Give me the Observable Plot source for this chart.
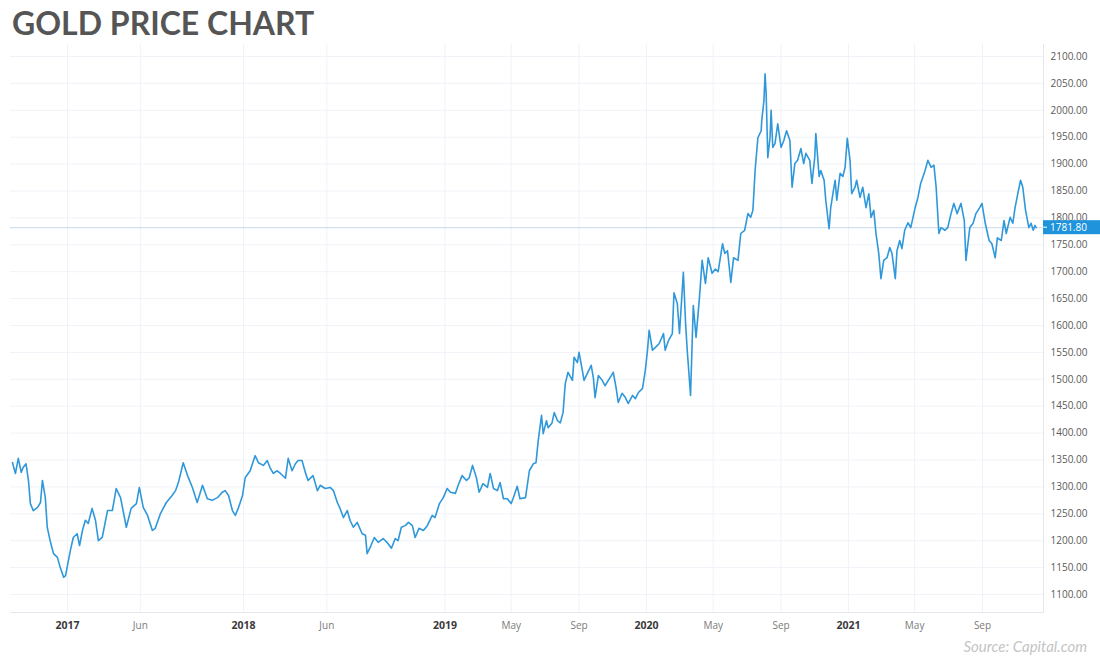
<!DOCTYPE html>
<html>
<head>
<meta charset="utf-8">
<script src="https://cdn.jsdelivr.net/npm/d3@7"></script>
<script src="https://cdn.jsdelivr.net/npm/@observablehq/plot@0.6"></script>
<style>
  html, body { margin: 0; padding: 0; background: #fff; }
  body { width: 1100px; height: 666px; overflow: hidden; font-family: Lato, "Noto Sans", sans-serif; }
  #title { height: 44px; box-sizing: border-box; padding: 7px 0 0 12px; font-size: 32px; line-height: 32px; font-weight: 700; color: #555; letter-spacing: 0px; }
  #chart svg { display: block; }
  #source { margin-top: -4px; height: 24px; text-align: right; padding-right: 13px; font-style: italic; font-size: 15px; line-height: 16px; color: #c4c4c4; }
</style>
</head>
<body>
<div id="title">GOLD PRICE CHART</div>
<div id="chart"></div>
<div id="source">Source: Capital.com</div>
<script>
// ---- data ----
const dates = [
"2016-09-09","2016-09-15","2016-09-21","2016-09-27","2016-10-01","2016-10-07","2016-10-12","2016-10-16","2016-10-22","2016-10-31",
"2016-11-06","2016-11-10","2016-11-16","2016-11-20","2016-11-26","2016-12-03","2016-12-11","2016-12-17","2016-12-24","2016-12-28",
"2017-01-01","2017-01-07","2017-01-13","2017-01-21","2017-01-26","2017-02-01","2017-02-07","2017-02-13","2017-02-21","2017-02-28",
"2017-03-06","2017-03-14","2017-03-25","2017-04-04","2017-04-12","2017-04-21","2017-05-03","2017-05-13","2017-05-24","2017-05-30",
"2017-06-07","2017-06-16","2017-06-26","2017-07-02","2017-07-13","2017-07-25","2017-08-06","2017-08-13","2017-08-19","2017-08-29",
"2017-09-07","2017-09-17","2017-09-27","2017-10-08","2017-10-18","2017-10-28","2017-11-08","2017-11-18","2017-11-24","2017-12-01",
"2017-12-09","2017-12-15","2017-12-21","2017-12-30","2018-01-04","2018-01-13","2018-01-22","2018-01-28","2018-02-06","2018-02-13",
"2018-02-18","2018-02-24","2018-03-03","2018-03-09","2018-03-18","2018-03-23","2018-03-30","2018-04-05","2018-04-10","2018-04-17",
"2018-04-23","2018-04-28","2018-05-07","2018-05-15","2018-05-20","2018-05-29","2018-06-07","2018-06-13","2018-06-20","2018-06-25",
"2018-07-01","2018-07-08","2018-07-13","2018-07-19","2018-07-26","2018-08-04","2018-08-10","2018-08-13","2018-08-20","2018-08-26",
"2018-09-02","2018-09-11","2018-09-18","2018-09-26","2018-10-03","2018-10-08","2018-10-14","2018-10-21","2018-10-27","2018-11-03",
"2018-11-08","2018-11-15","2018-11-23","2018-11-30","2018-12-09","2018-12-14","2018-12-22","2018-12-29","2019-01-05","2019-01-11",
"2019-01-20","2019-01-25","2019-02-01","2019-02-09","2019-02-14","2019-02-20","2019-02-27","2019-03-04","2019-03-11","2019-03-19",
"2019-03-24","2019-03-30","2019-04-06","2019-04-11","2019-04-17","2019-04-24","2019-05-01","2019-05-05","2019-05-12","2019-05-17",
"2019-05-27","2019-06-03","2019-06-10","2019-06-15","2019-06-19","2019-06-25","2019-06-28","2019-07-04","2019-07-07","2019-07-14",
"2019-07-18","2019-07-24","2019-07-29","2019-08-03","2019-08-07","2019-08-12","2019-08-20","2019-08-23","2019-08-29","2019-09-01",
"2019-09-07","2019-09-10","2019-09-16","2019-09-23","2019-09-27","2019-09-30","2019-10-06","2019-10-13","2019-10-18","2019-10-24",
"2019-11-02","2019-11-07","2019-11-11","2019-11-18","2019-11-24","2019-11-29","2019-12-07","2019-12-12","2019-12-18","2019-12-25",
"2019-12-30","2020-01-03","2020-01-06","2020-01-12","2020-01-17","2020-01-24","2020-02-01","2020-02-04","2020-02-10","2020-02-17",
"2020-02-20","2020-02-26","2020-03-01","2020-03-08","2020-03-12","2020-03-15","2020-03-21","2020-03-26","2020-03-31","2020-04-06",
"2020-04-11","2020-04-17","2020-04-22","2020-04-29","2020-05-05","2020-05-10","2020-05-18","2020-05-22","2020-05-27","2020-06-02",
"2020-06-07","2020-06-15","2020-06-20","2020-06-27","2020-07-03","2020-07-08","2020-07-12","2020-07-16","2020-07-21","2020-07-27",
"2020-07-28","2020-08-01","2020-08-03","2020-08-05","2020-08-08","2020-08-12","2020-08-14","2020-08-17","2020-08-21","2020-08-26",
"2020-09-01","2020-09-06","2020-09-11","2020-09-17","2020-09-21","2020-09-26","2020-10-01","2020-10-07","2020-10-12","2020-10-16",
"2020-10-23","2020-10-27","2020-11-01","2020-11-03","2020-11-09","2020-11-12","2020-11-18","2020-11-21","2020-11-27","2020-11-30",
"2020-12-04","2020-12-08","2020-12-11","2020-12-17","2020-12-22","2020-12-26","2020-12-30","2021-01-04","2021-01-07","2021-01-13",
"2021-01-16","2021-01-22","2021-01-27","2021-02-02","2021-02-07","2021-02-11","2021-02-16","2021-02-20","2021-02-25","2021-03-01",
"2021-03-06","2021-03-12","2021-03-17","2021-03-21","2021-03-27","2021-03-30","2021-04-04","2021-04-08","2021-04-13","2021-04-19",
"2021-04-24","2021-05-02","2021-05-07","2021-05-12","2021-05-20","2021-05-25","2021-05-31","2021-06-05","2021-06-09","2021-06-14",
"2021-06-18","2021-06-25","2021-06-30","2021-07-06","2021-07-11","2021-07-17","2021-07-24","2021-07-30","2021-08-02","2021-08-09",
"2021-08-15","2021-08-20","2021-08-27","2021-08-31","2021-09-06","2021-09-13","2021-09-18","2021-09-24","2021-09-28","2021-10-05",
"2021-10-10","2021-10-14","2021-10-21","2021-10-26","2021-10-30","2021-11-04","2021-11-09","2021-11-13","2021-11-18","2021-11-24",
"2021-11-28","2021-12-02","2021-12-05","2021-12-07"
];
const prices = [
1345,1325,1353,1327,1336,1343,1312,1269,1256,1262,
1271,1312,1280,1225,1200,1176,1169,1150,1132,1135,
1154,1182,1206,1213,1191,1219,1238,1232,1260,1238,
1200,1206,1256,1256,1297,1280,1225,1260,1269,1299,
1262,1247,1219,1223,1251,1271,1284,1293,1308,1345,
1321,1299,1271,1303,1278,1275,1280,1290,1293,1284,
1256,1247,1260,1284,1317,1330,1358,1345,1340,1349,
1336,1325,1330,1325,1316,1353,1330,1343,1349,1349,
1327,1312,1321,1293,1303,1297,1299,1293,1271,1260,
1243,1256,1238,1225,1234,1213,1210,1176,1191,1206,
1197,1204,1197,1186,1204,1200,1225,1228,1234,1228,
1206,1223,1219,1228,1247,1243,1269,1280,1297,1290,
1288,1303,1321,1312,1317,1340,1317,1290,1306,1299,
1325,1297,1293,1308,1278,1278,1269,1280,1301,1278,
1280,1330,1343,1345,1386,1433,1399,1423,1410,1419,
1438,1423,1419,1438,1492,1513,1498,1541,1531,1550,
1516,1498,1511,1526,1502,1466,1507,1498,1488,1498,
1513,1485,1457,1474,1466,1455,1470,1464,1476,1483,
1516,1554,1591,1554,1559,1566,1585,1554,1572,1585,
1661,1641,1585,1699,1604,1554,1470,1637,1578,1650,
1721,1678,1726,1697,1705,1700,1752,1734,1739,1680,
1726,1721,1771,1777,1808,1801,1814,1888,1949,1962,
1981,2018,2068,2031,1912,1949,2000,1931,1938,1975,
1931,1944,1962,1944,1857,1901,1907,1929,1901,1920,
1907,1864,1912,1957,1877,1888,1870,1833,1780,1819,
1845,1870,1833,1883,1877,1894,1948,1907,1845,1857,
1870,1838,1857,1819,1845,1801,1814,1771,1734,1687,
1721,1726,1745,1734,1687,1739,1758,1743,1777,1791,
1782,1819,1838,1864,1888,1907,1894,1898,1857,1771,
1782,1777,1782,1808,1827,1808,1827,1795,1721,1782,
1790,1808,1819,1827,1790,1758,1752,1726,1763,1758,
1795,1771,1801,1790,1819,1845,1870,1857,1814,1782,
1790,1777,1786,1781.8
];
const lastPrice = 1781.80;
const yearTicks = ["2017-01-01","2018-01-01","2019-01-01","2020-01-01","2021-01-01"];
const monthTicks = ["2017-06-01","2018-06-01","2019-05-01","2019-09-01","2020-05-01","2020-09-01","2021-05-01","2021-09-01"];
const priceTicks = d3.range(1100, 2101, 50);

// ---- build ----
const data = dates.map((d, i) => ({date: new Date(d), price: prices[i]}));
const years = yearTicks.map(d => new Date(d));
const months = monthTicks.map(d => new Date(d));
const allTicks = years.concat(months);
const monthFmt = d3.utcFormat("%b");

const W = 1100, H = 598, mL = 10, mR = 57, mT = 0, mB = 30;
const lineColor = "#2f98da";
const font = "'Open Sans', 'Noto Sans', sans-serif";

const chart = Plot.plot({
  width: W,
  height: H,
  marginLeft: mL,
  marginRight: mR,
  marginTop: mT,
  marginBottom: mB,
  insetTop: 12,
  insetBottom: 18,
  style: {fontFamily: font, fontSize: "10px", color: "#555", background: "#fff", overflow: "visible"},
  // the source chart's time axis is uneven (2017 is compressed), so a piecewise UTC scale is used
  x: {type: "utc", domain: [new Date("2017-01-01"), new Date("2018-01-01"), new Date("2021-09-01")], range: [67, 243, 982], label: null},
  y: {domain: [1100, 2100], label: null},
  marks: [
    Plot.gridY(priceTicks, {stroke: "#eff2f7", strokeOpacity: 1}),
    Plot.gridX(allTicks, {stroke: "#eff2f7", strokeOpacity: 1}),
    Plot.frame({anchor: "bottom", stroke: "#e3e6ec"}),
    Plot.frame({anchor: "right", stroke: "#e3e6ec"}),
    Plot.ruleY([lastPrice], {stroke: "#c9d9ea", strokeWidth: 1}),
    Plot.line(data, {x: "date", y: "price", stroke: lineColor, strokeWidth: 1.6, curve: "linear"}),
    Plot.axisY(priceTicks, {anchor: "right", tickSize: 0, tickPadding: 7, tickFormat: d3.format(".2f"), color: "#5a5a5a", fontSize: 10, label: null}),
    Plot.axisX(years, {anchor: "bottom", tickSize: 0, tickPadding: 9, tickFormat: d => String(d.getUTCFullYear()), color: "#3a3a3a", fontWeight: "bold", fontSize: 10.5, label: null}),
    Plot.axisX(months, {anchor: "bottom", tickSize: 0, tickPadding: 9, tickFormat: d => monthFmt(d), color: "#7a7a7a", fontSize: 10, label: null})
  ]
});

document.getElementById("chart").appendChild(chart);

// last-price tag on the right axis, positioned with the plot's own y scale
const py = chart.scale("y").apply(lastPrice);
const svg = d3.select(chart);
const tag = svg.append("g").attr("text-anchor", "start");
tag.append("rect").attr("x", W - mR).attr("y", py - 7).attr("width", mR).attr("height", 14).attr("fill", "#1f94dc");
tag.append("line").attr("x1", W - mR).attr("x2", W - mR + 4).attr("y1", py).attr("y2", py).attr("stroke", "#fff").attr("stroke-width", 1);
tag.append("text").attr("x", W - mR + 7).attr("y", py).attr("dy", "0.35em").attr("fill", "#fff").attr("text-anchor", "start")
  .attr("font-size", 10).attr("font-family", font).text(lastPrice.toFixed(2));
</script>
</body>
</html>
